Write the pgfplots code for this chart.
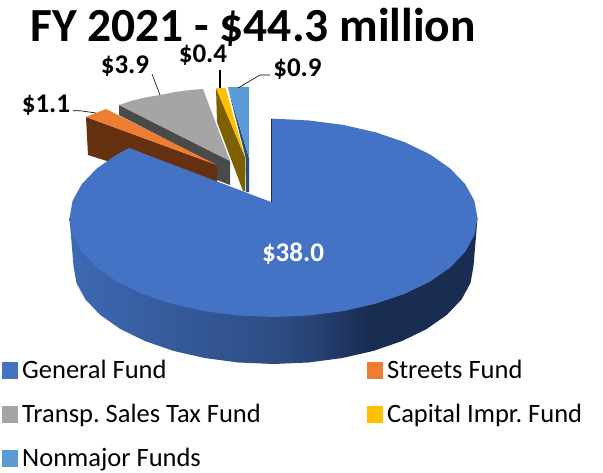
\documentclass[border=0pt]{standalone}
\usepackage{pgfplots}
\pgfplotsset{compat=1.18}
\usepackage{fontspec}
\setmainfont{Carlito}
\frenchspacing
\definecolor{genblue}{HTML}{4472C4}
\definecolor{strorange}{HTML}{ED7D31}
\definecolor{strbrown}{HTML}{64300F}
\definecolor{trgrey}{HTML}{A5A5A5}
\definecolor{trdark}{HTML}{4A4A4A}
\definecolor{capyellow}{HTML}{FFC000}
\definecolor{capolive}{HTML}{7F6000}
\definecolor{nonblue}{HTML}{5B9BD5}
\definecolor{nondark}{HTML}{2A4F73}
\definecolor{sideA}{HTML}{3D69B3}
\definecolor{sideB}{HTML}{2C4A80}
\definecolor{sideC}{HTML}{192C52}
% rim of the large slice, lighter on the left and dark towards the right
\pgfdeclarehorizontalshading{rimshade}{100bp}{color(0bp)=(sideA); color(25bp)=(sideA); color(52bp)=(sideB); color(62bp)=(sideC); color(100bp)=(sideC)}
\begin{document}
\begin{tikzpicture}
\useasboundingbox (0,0) rectangle (603pt,472pt);
\begin{axis}[
  hide axis, scale only axis, width=603pt, height=472pt,
  xmin=0, xmax=603, ymin=0, ymax=472, y dir=reverse, clip=false,
  legend columns=2,
  legend cell align=left,
  legend style={draw=none, fill=none, inner sep=0pt, outer sep=0pt,
    at={(axis description cs:0.0033,0.241)}, anchor=north west,
    font=\fontsize{26.5}{28}\selectfont, row sep=20pt,
    /tikz/every even column/.append style={column sep=104pt}},
  legend image code/.code={\fill[#1] (0pt,-8pt) rectangle (15pt,8pt); \path[draw=none] (0pt,0pt) -- (18pt,0pt);},
]
\addlegendimage{genblue}\addlegendentry{General Fund}
\addlegendimage{strorange}\addlegendentry{Streets Fund}
\addlegendimage{trgrey}\addlegendentry{Transp. Sales Tax Fund}
\addlegendimage{capyellow}\addlegendentry{Capital Impr. Fund}
\addlegendimage{nonblue}\addlegendentry{Nonmajor Funds}

% Transp. Sales Tax Fund: side wall, then top face
\addplot[forget plot, fill=trdark, draw=none] coordinates {(119,105) (119,115) (217,166) (217,180) (230,185) (230,161)} -- cycle;
\addplot[forget plot, fill=trgrey, draw=none] coordinates {(119,105) (131,101) (145,97.5) (160,95) (175,92) (190,90) (203,89) (230,161)} -- cycle;
% Streets Fund
\addplot[forget plot, fill=strbrown, draw=none] coordinates {(86,117) (88,155) (110,162) (217,185) (217,165)} -- cycle;
\addplot[forget plot, fill=strorange, draw=none] coordinates {(86,117) (106,109) (217,165)} -- cycle;
% Capital Impr. Fund
\addplot[forget plot, fill=capolive, draw=none] coordinates {(216,88) (217,122) (243,191) (245,191) (245,157)} -- cycle;
\addplot[forget plot, fill=capyellow, draw=none] coordinates {(216,88) (225.5,88) (245,157)} -- cycle;
% Nonmajor Funds
\addplot[forget plot, fill=nondark, draw=none] coordinates {(228,88) (249,158) (249,192) (246,192) (245.5,157)} -- cycle;
\addplot[forget plot, fill=nonblue, draw=none] coordinates {(228,87) (249,87) (249,158)} -- cycle;
% General Fund: rim
\addplot[forget plot, shading=rimshade, draw=none] coordinates {(69.5,218) (73.5,266) (76.5,283) (85.5,299.5) (100.3,315) (120.3,329) (144.9,341) (173.5,350.9) (205.1,358.1) (238.7,362.5) (273.5,364) (308.3,362.5) (341.9,358.1) (373.5,350.9) (402.1,341) (426.7,329) (446.7,315) (461.5,299.5) (470.5,283) (473.5,266) (477.5,218)} -- cycle;
% General Fund: top face
\addplot[forget plot, fill=genblue, draw=none] coordinates {(271,202) (271,118.5) (309,120.5) (343.3,124.9) (375.5,132.3) (404.7,142.2) (429.8,154.3) (450.2,168.5) (465.2,184.1) (474.4,200.8) (477.5,218) (474.4,235.2) (465.2,251.9) (450.2,267.5) (429.8,281.7) (404.7,293.8) (375.5,303.7) (343.3,311.1) (309,315.5) (273.5,317) (238,315.5) (203.7,311.1) (171.5,303.7) (142.3,293.8) (117.2,281.7) (96.8,267.5) (81.8,251.9) (72.6,235.2) (69.5,218) (72.6,200.8) (81.8,184.1) (96.8,168.5) (117.2,154.3) (129,148)} -- cycle;
\addplot[forget plot, color=sideC, line width=0.9pt] coordinates {(271,119) (271,202)};

% leader lines
\addplot[forget plot, black, line width=0.6pt] coordinates {(73,110.7) (80,110.7) (96,113)};
\addplot[forget plot, black, line width=0.6pt] coordinates {(152,74) (160,95)};
\addplot[forget plot, black, line width=1.4pt] coordinates {(220,70) (220,88)};
\addplot[forget plot, black, line width=0.6pt] coordinates {(270,75) (260,75) (238,88)};

% value labels
\node[font=\fontsize{27}{29}\selectfont\bfseries] at (axis cs:46,105) {\$1.1};
\node[font=\fontsize{27}{29}\selectfont\bfseries] at (axis cs:125,66) {\$3.9};
\node[font=\fontsize{27}{29}\selectfont\bfseries] at (axis cs:203,55) {\$0.4};
\node[font=\fontsize{27}{29}\selectfont\bfseries] at (axis cs:297.5,69) {\$0.9};
\node[font=\fontsize{27}{29}\selectfont\bfseries, text=white] at (axis cs:293,254) {\$38.0};
\node[font=\fontsize{47.5}{50}\selectfont\bfseries] at (axis cs:253,27) {FY 2021 - \$44.3 million};
\end{axis}
\end{tikzpicture}
\end{document}
